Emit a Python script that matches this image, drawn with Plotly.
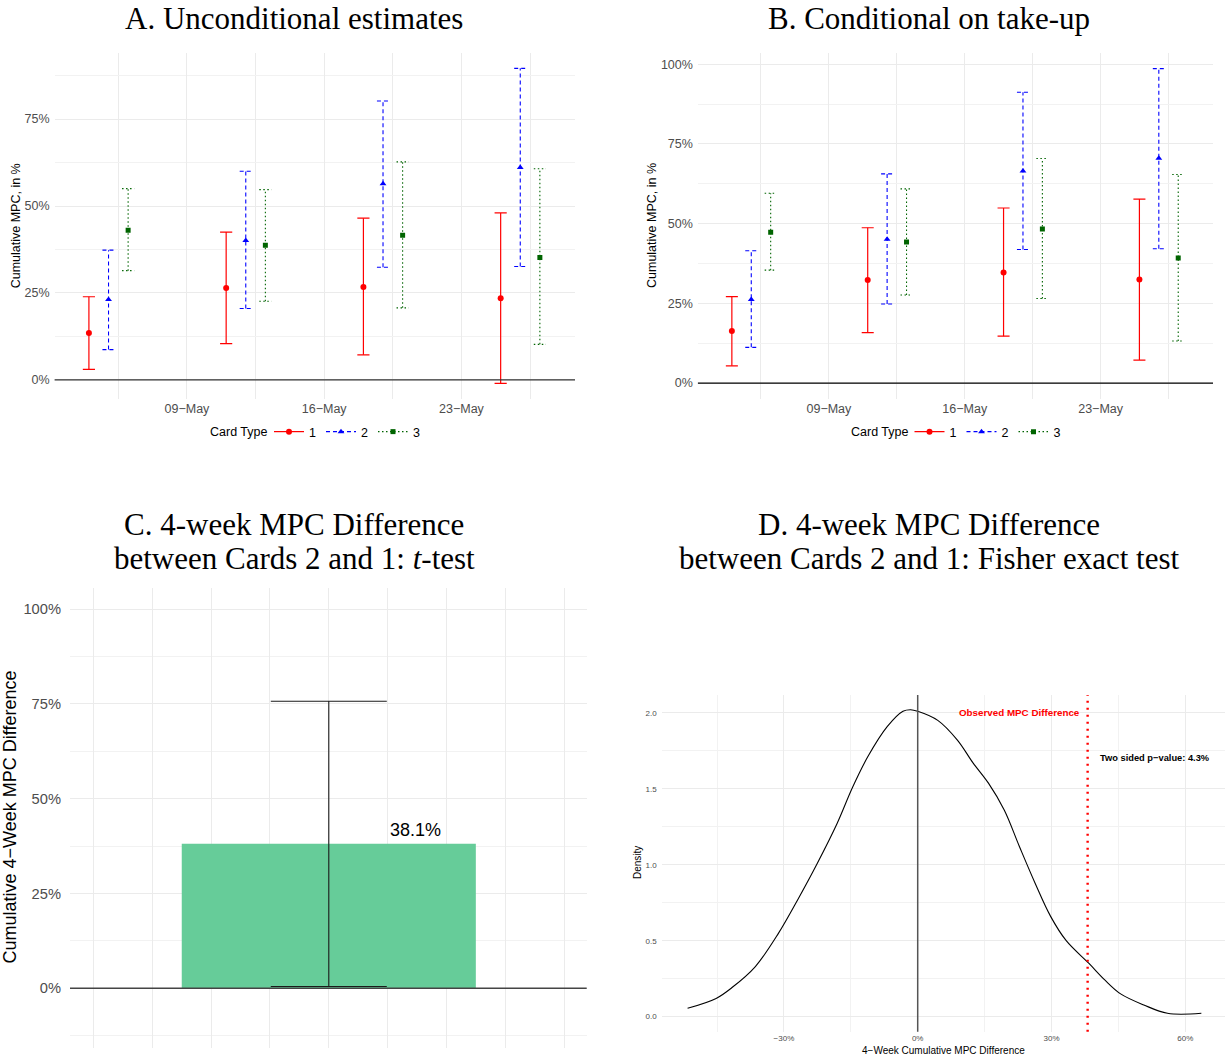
import plotly.graph_objects as go
import pandas as pd

W, H = 1225, 1061

# ---------------- data ----------------
week_dates = ["2020-05-05", "2020-05-12", "2020-05-19", "2020-05-26"]
card_types = ["1", "2", "3"]
date_tick_vals = ["2020-05-09", "2020-05-16", "2020-05-23"]
date_tick_text = ["09\u2212May", "16\u2212May", "23\u2212May"]

# Panel A: unconditional estimates (%)
a_est_1 = [13.5, 26.4, 26.7, 23.5]
a_lo_1 = [3.0, 10.4, 7.2, -1.0]
a_hi_1 = [23.9, 42.5, 46.5, 48.0]
a_est_2 = [23.1, 40.1, 56.4, 61.1]
a_lo_2 = [8.7, 20.5, 32.4, 32.6]
a_hi_2 = [37.3, 60.0, 80.2, 89.6]
a_est_3 = [43.0, 38.7, 41.6, 35.2]
a_lo_3 = [31.4, 22.6, 20.7, 10.2]
a_hi_3 = [55.0, 54.7, 62.7, 60.7]

# Panel B: conditional on take-up (%)
b_est_1 = [16.3, 32.3, 34.7, 32.5]
b_lo_1 = [5.4, 15.8, 14.7, 7.2]
b_hi_1 = [27.1, 48.7, 54.9, 57.7]
b_est_2 = [26.2, 45.1, 66.5, 70.5]
b_lo_2 = [11.2, 24.8, 41.9, 42.1]
b_hi_2 = [41.5, 65.6, 91.2, 98.6]
b_est_3 = [47.3, 44.2, 48.3, 39.2]
b_lo_3 = [35.4, 27.6, 26.5, 13.2]
b_hi_3 = [59.5, 60.9, 70.4, 65.4]

# Panel C: 4-week MPC difference, t-test (%)
c_diff = [38.1]
c_lo = [0.5]
c_hi = [75.7]

# Panel D: permutation density of 4-week MPC difference
d_x = [-51.6, -45.2, -41.7, -36.4, -31.2, -26.9, -22.5, -18.1, -14.6, -11.2,
       -6.8, -3.3, -1.6, 0.0, 4.5, 8.9, 12.4, 15.9, 19.4, 22.8, 26.3, 29.8,
       33.3, 38.4, 42.0, 45.5, 50.7, 56.0, 63.6]
d_y = [0.055, 0.12, 0.19, 0.33, 0.55, 0.77, 1.01, 1.27, 1.51, 1.71,
       1.91, 2.01, 2.02, 2.01, 1.95, 1.82, 1.67, 1.535, 1.36, 1.12, 0.88, 0.66,
       0.50, 0.35, 0.24, 0.15, 0.077, 0.022, 0.022]
d_observed = 38.1
d_pvalue = 4.3

# ---------------- styles ----------------
COL = {"1": "#FF0000", "2": "#0000FF", "3": "#006400"}
DASH = {"1": "solid", "2": "4px,3px", "3": "1.5px,2.5px"}
SYM = {"1": "circle", "2": "triangle-up", "3": "square"}
MSIZE = {"1": 6, "2": 6, "3": 5}
LW = {"1": 1.2, "2": 1.1, "3": 1.1}
DODGE_DAYS = {"1": -1.0, "2": 0.0, "3": 1.0}
CAP_DAYS = 0.31

SANS = "Liberation Sans, Arial, sans-serif"
SERIF = "Liberation Serif, Times New Roman, serif"
TICKC = "#4D4D4D"
GRID = "#EBEBEB"
MINOR = "#F2F2F2"


def px_x(p):
    return p / W


def px_y(p):
    return 1 - p / H


def errbar_xy(xs, lo, hi, cap):
    X, Y = [], []
    for x, l, h in zip(xs, lo, hi):
        X += [x, x, None, x - cap, x + cap, None, x - cap, x + cap, None]
        Y += [l, h, None, l, l, None, h, h, None]
    return X, Y


fig = go.Figure()

base_dates = pd.to_datetime(week_dates)
panels = {
    "A": (("x", "y"), "legend",
          {"1": (a_est_1, a_lo_1, a_hi_1), "2": (a_est_2, a_lo_2, a_hi_2), "3": (a_est_3, a_lo_3, a_hi_3)}),
    "B": (("x2", "y2"), "legend2",
          {"1": (b_est_1, b_lo_1, b_hi_1), "2": (b_est_2, b_lo_2, b_hi_2), "3": (b_est_3, b_lo_3, b_hi_3)}),
}

for key, ((xa, ya), leg, series) in panels.items():
    for card in card_types:
        est, lo, hi = series[card]
        xs = [d + pd.Timedelta(days=DODGE_DAYS[card]) for d in base_dates]
        ex, ey = errbar_xy(xs, lo, hi, pd.Timedelta(days=CAP_DAYS))
        fig.add_trace(go.Scatter(
            x=ex, y=ey, mode="lines", xaxis=xa, yaxis=ya,
            line=dict(color=COL[card], width=LW[card], dash=DASH[card]),
            showlegend=False, hoverinfo="skip"))
        fig.add_trace(go.Scatter(
            x=xs, y=est, mode="markers", xaxis=xa, yaxis=ya,
            marker=dict(color=COL[card], symbol=SYM[card], size=MSIZE[card]),
            showlegend=False))
        # legend entry
        fig.add_trace(go.Scatter(
            x=[None], y=[None], mode="lines+markers", xaxis=xa, yaxis=ya,
            line=dict(color=COL[card], width=LW[card], dash=DASH[card]),
            marker=dict(color=COL[card], symbol=SYM[card], size=MSIZE[card]),
            name=card, legend=leg, showlegend=True))

# Panel C bar with error bar
c_x = list(range(len(c_diff)))
fig.add_trace(go.Bar(
    x=c_x, y=c_diff, width=1.0, xaxis="x3", yaxis="y3",
    marker=dict(color="#66CC99", line=dict(width=0)),
    error_y=dict(type="data", symmetric=False,
                 array=[h - d for h, d in zip(c_hi, c_diff)],
                 arrayminus=[d - l for d, l in zip(c_diff, c_lo)],
                 color="#1a1a1a", thickness=1.1, width=58),
    showlegend=False))

# Panel D density
fig.add_trace(go.Scatter(
    x=d_x, y=d_y, mode="lines", xaxis="x4", yaxis="y4",
    line=dict(color="black", width=1.1, shape="spline", smoothing=1.0),
    showlegend=False))

# ---------------- axes ----------------
tickfont = dict(family=SANS, size=12.5, color=TICKC)

date_axis = dict(
    type="date", range=["2020-05-02 06:00", "2020-05-28 19:00"],
    tickvals=date_tick_vals, ticktext=date_tick_text, tickfont=tickfont,
    showgrid=True, gridcolor=GRID, gridwidth=1.1, zeroline=False, showline=False,
    ticks="", minor=dict(tickvals=["2020-05-05 12:00", "2020-05-12 12:00",
                                   "2020-05-19 12:00", "2020-05-26 12:00"],
                         showgrid=True, gridcolor=GRID, gridwidth=1.0),
)

pct_axis = dict(
    tickmode="linear", tick0=0, dtick=25, ticksuffix="%", tickfont=tickfont,
    showgrid=True, gridcolor=GRID, gridwidth=1.1, zeroline=False, showline=False,
    ticks="", ticklabelstandoff=4,
    minor=dict(dtick=12.5, tick0=0, showgrid=True, gridcolor=MINOR, gridwidth=0.9),
)

legend_common = dict(orientation="h", yanchor="middle", xanchor="left",
                     font=dict(family=SANS, size=12.5, color="black"), itemwidth=30,
                     bgcolor="rgba(0,0,0,0)", tracegroupgap=0)

LEG_A_X = 269
LEG_B_X = 909.5

fig.update_layout(
    width=W, height=H, margin=dict(l=0, r=0, t=0, b=0),
    paper_bgcolor="white", plot_bgcolor="white",
    xaxis=dict(domain=[px_x(54.6), px_x(575)], anchor="y", **date_axis),
    yaxis=dict(domain=[px_y(399.3), px_y(52.7)], anchor="x", range=[-5.6, 94.1], **pct_axis),
    xaxis2=dict(domain=[px_x(697.9), px_x(1213)], anchor="y2", **date_axis),
    yaxis2=dict(domain=[px_y(399.3), px_y(52.7)], anchor="x2", range=[-5.1, 103.6], **pct_axis),
    xaxis3=dict(domain=[px_x(70), px_x(586.7)], anchor="y3", range=[-0.88, 0.877],
                tickmode="linear", tick0=0, dtick=0.2, showticklabels=False, ticks="",
                showgrid=True, gridcolor=GRID, gridwidth=1.1, zeroline=False, showline=False),
    yaxis3=dict(domain=[px_y(1047.7), px_y(588.3)], anchor="x3", range=[-15.66, 105.5],
                tickmode="linear", tick0=0, dtick=25, ticksuffix="%",
                tickfont=dict(family=SANS, size=14.7, color=TICKC), ticklabelstandoff=8,
                showgrid=True, gridcolor=GRID, gridwidth=1.1, zeroline=False, showline=False,
                ticks="", minor=dict(dtick=12.5, tick0=0, showgrid=True, gridcolor=MINOR, gridwidth=0.9)),
    xaxis4=dict(domain=[px_x(661.7), 1.0], anchor="y4", range=[-57.4, 68.9],
                tickmode="linear", tick0=0, dtick=30, ticksuffix="%",
                tickfont=dict(family=SANS, size=8, color=TICKC),
                showgrid=True, gridcolor=GRID, gridwidth=1.1, zeroline=False, showline=False,
                ticks="", minor=dict(dtick=15, tick0=0, showgrid=True, gridcolor=MINOR, gridwidth=0.9)),
    yaxis4=dict(domain=[px_y(1031.7), px_y(695)], anchor="x4", range=[-0.099, 2.117],
                tickmode="linear", tick0=0, dtick=0.5, tickformat=".1f",
                tickfont=dict(family=SANS, size=8, color=TICKC), ticklabelstandoff=4,
                showgrid=True, gridcolor=GRID, gridwidth=1.1, zeroline=False, showline=False,
                ticks="", minor=dict(dtick=0.25, tick0=0, showgrid=True, gridcolor=MINOR, gridwidth=0.9)),
    legend=dict(x=px_x(LEG_A_X), y=px_y(432), **legend_common),
    legend2=dict(x=px_x(LEG_B_X), y=px_y(432), **legend_common),
)

# ---------------- reference lines ----------------
fig.add_shape(type="line", xref="x domain", yref="y", x0=0, x1=1, y0=0, y1=0,
              line=dict(color="#333333", width=1.4), layer="above")
fig.add_shape(type="line", xref="x2 domain", yref="y2", x0=0, x1=1, y0=0, y1=0,
              line=dict(color="black", width=1.2), layer="above")
fig.add_shape(type="line", xref="x3 domain", yref="y3", x0=0, x1=1, y0=0, y1=0,
              line=dict(color="#444444", width=1.5), layer="above")
fig.add_shape(type="line", xref="x4", yref="y4 domain", x0=0, x1=0, y0=0, y1=1,
              line=dict(color="#555555", width=1.5), layer="above")
fig.add_shape(type="line", xref="x4", yref="y4 domain", x0=d_observed, x1=d_observed, y0=0, y1=1,
              line=dict(color="#FF0000", width=2.4, dash="2px,5px"), layer="above")

# ---------------- text ----------------
ann = []
title_font = dict(family=SERIF, size=31, color="black")


def title(text, xp, yp):
    ann.append(dict(text=text, x=px_x(xp), y=px_y(yp), xref="paper", yref="paper",
                    xanchor="center", yanchor="middle", showarrow=False, font=title_font))


title("A. Unconditional estimates", 294, 18)
title("B. Conditional on take-up", 929, 18)
title("C. 4-week MPC Difference", 294, 524)
title("between Cards 2 and 1: <i>t</i>-test", 294, 558)
title("D. 4-week MPC Difference", 929, 524)
title("between Cards 2 and 1: Fisher exact test", 929, 558)


def vlabel(text, xp, yp, size):
    ann.append(dict(text=text, x=px_x(xp), y=px_y(yp), xref="paper", yref="paper",
                    xanchor="center", yanchor="middle", textangle=-90, showarrow=False,
                    font=dict(family=SANS, size=size, color="black")))


vlabel("Cumulative MPC, in %", 16.3, 226, 12.5)
vlabel("Cumulative MPC, in %", 652, 226, 12.5)
vlabel("Cumulative 4\u2212Week MPC Difference", 9.5, 817, 18)
vlabel("Density", 637, 863, 10)

# legend titles
for xp in (LEG_A_X, LEG_B_X):
    ann.append(dict(text="Card Type", x=px_x(xp), y=px_y(432), xref="paper", yref="paper",
                    xanchor="right", yanchor="middle", showarrow=False,
                    font=dict(family=SANS, size=12.5, color="black")))

ann.append(dict(text="4\u2212Week Cumulative MPC Difference", x=px_x(943.5), y=px_y(1050),
                xref="paper", yref="paper", xanchor="center", yanchor="middle", showarrow=False,
                font=dict(family=SANS, size=10, color="black")))

ann.append(dict(text=f"{c_diff[0]:.1f}%", x=0.295, y=c_diff[0], xref="x3", yref="y3",
                xanchor="center", yanchor="bottom", yshift=2, showarrow=False,
                font=dict(family=SANS, size=18, color="black")))

ann.append(dict(text="<b>Observed MPC Difference</b>", x=36.8, y=2.0, xref="x4", yref="y4",
                xanchor="right", yanchor="middle", showarrow=False,
                font=dict(family=SANS, size=9.8, color="#FF0000")))
ann.append(dict(text=f"<b>Two sided p\u2212value: {d_pvalue:.1f}%</b>", x=40.4, y=1.70,
                xref="x4", yref="y4", xanchor="left", yanchor="middle", showarrow=False,
                font=dict(family=SANS, size=9.3, color="black")))

fig.update_layout(annotations=ann)

fig.write_html("out.html")
